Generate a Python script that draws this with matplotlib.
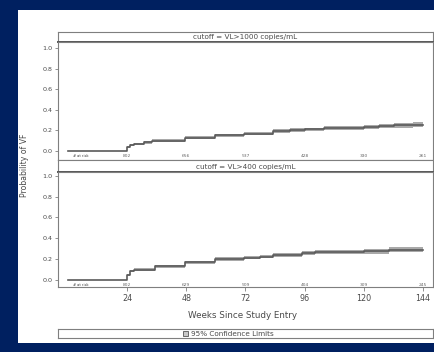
import matplotlib.pyplot as plt
from matplotlib.patches import Rectangle
import numpy as np

# ---- data ----
weeks_1000 = [0, 24, 25, 27, 31, 34, 47.5, 59.5, 71.5, 83, 90, 96, 104, 110, 120, 126, 132, 140, 144]
prob_1000 = [0, 0.04, 0.06, 0.07, 0.085, 0.10, 0.13, 0.155, 0.17, 0.195, 0.205, 0.21, 0.22, 0.225,
             0.235, 0.24, 0.25, 0.255, 0.255]
ci_1000 = [0, 0.01, 0.011, 0.012, 0.012, 0.013, 0.014, 0.015, 0.016, 0.017, 0.018, 0.018, 0.019,
           0.019, 0.02, 0.021, 0.022, 0.022, 0.022]

weeks_400 = [0, 24, 25, 27, 35.5, 47.5, 59.5, 71.5, 78, 83, 95, 100, 110, 120, 130, 144]
prob_400 = [0, 0.05, 0.085, 0.10, 0.13, 0.17, 0.20, 0.215, 0.225, 0.24, 0.26, 0.265, 0.27,
            0.275, 0.29, 0.29]
ci_400 = [0, 0.011, 0.012, 0.013, 0.014, 0.015, 0.016, 0.017, 0.017, 0.018, 0.019, 0.019, 0.02,
          0.021, 0.022, 0.022]

risk_weeks = [24, 48, 72, 96, 120, 144]
risk_1000 = [802, 656, 537, 428, 330, 261]
risk_400 = [802, 629, 509, 404, 309, 245]

panels = [
    ("cutoff = VL>1000 copies/mL", weeks_1000, prob_1000, ci_1000, risk_1000),
    ("cutoff = VL>400 copies/mL", weeks_400, prob_400, ci_400, risk_400),
]

W, H = 435, 352
NAVY = "#002060"
FRAME = "#7f7f7f"
TXT = "#4a4a4a"


def fbox(x0, y0, x1, y1):
    # pixel box (top-left origin) -> figure fraction rect
    return [x0 / W, 1 - y1 / H, (x1 - x0) / W, (y1 - y0) / H]


fig = plt.figure(figsize=(W / 100, H / 100), dpi=100, facecolor=NAVY)
fig.patches.append(Rectangle((18 / W, 1 - 343 / H), 1, (343 - 10) / H, zorder=-10,
                             transform=fig.transFigure, facecolor="white", edgecolor="none"))

# panel geometry in pixels: (header top, header bottom, axes bottom), ylim
geo = [((32, 42, 160), (-0.087, 1.058)), ((160, 172, 287), (-0.067, 1.035))]
x_left, x_right = 58, 433

for i, ((title, wk, pr, ci, risk), ((h0, h1, b), ylim)) in enumerate(zip(panels, geo)):
    # header strip
    hax = fig.add_axes(fbox(x_left, h0, x_right, h1))
    hax.set_xticks([])
    hax.set_yticks([])
    for s in hax.spines.values():
        s.set_color(FRAME)
        s.set_linewidth(0.8)
    hax.spines["bottom"].set_color("#555555")
    hax.spines["bottom"].set_linewidth(1.4)
    hax.text(0.5, 0.45, title, ha="center", va="center", fontsize=5.2, color=TXT)

    ax = fig.add_axes(fbox(x_left, h1, x_right, b))
    wk = np.array(wk)
    pr = np.array(pr)
    ci = np.array(ci)
    ax.fill_between(wk, pr - ci, pr + ci, step="post", color="#a9a9a9", lw=0)
    ax.step(wk, pr, where="post", color="#5a5a5a", lw=1.2)
    ax.set_xlim(-4, 148)
    ax.set_ylim(*ylim)
    ax.set_yticks(np.arange(0, 1.01, 0.2))
    ax.set_yticklabels([f"{v:.1f}" for v in np.arange(0, 1.01, 0.2)])
    ax.tick_params(axis="y", labelsize=4.6, colors=FRAME, labelcolor=TXT, length=2.5, width=0.6, pad=1.5)
    for s in ax.spines.values():
        s.set_color(FRAME)
        s.set_linewidth(0.8)

    yr = -0.045 if i == 0 else -0.048
    ax.text(2, yr, "# at risk", fontsize=2.6, color="#333333", va="center", ha="left")
    for w, n in zip(risk_weeks, risk):
        ax.text(w, yr, str(n), fontsize=3.2, color="#666666", ha="center", va="center")

    if i == 1:
        ax.set_xticks(risk_weeks)
        ax.tick_params(axis="x", labelsize=5.8, colors=FRAME, labelcolor=TXT, length=3, width=0.6, pad=2)
    else:
        ax.set_xticks([])

fig.text(243 / W, 1 - 316 / H, "Weeks Since Study Entry", ha="center", va="center",
         fontsize=6.3, color=TXT)
fig.text(25 / W, 1 - 165 / H, "Probability of VF", rotation=90, ha="center", va="center",
         fontsize=5.6, color=TXT)

# legend box
lax = fig.add_axes(fbox(x_left, 329, x_right, 338))
lax.set_xlim(0, 1)
lax.set_ylim(0, 1)
lax.set_xticks([])
lax.set_yticks([])
for s in lax.spines.values():
    s.set_color(FRAME)
    s.set_linewidth(0.8)
lax.add_patch(Rectangle((0.333, 0.2), 0.014, 0.6, facecolor="#c8c8c8", edgecolor="#555555", lw=0.6))
lax.text(0.355, 0.5, "95% Confidence Limits", fontsize=5.2, color=TXT, va="center", ha="left")

fig.savefig("out.png", dpi=100, facecolor=NAVY)
